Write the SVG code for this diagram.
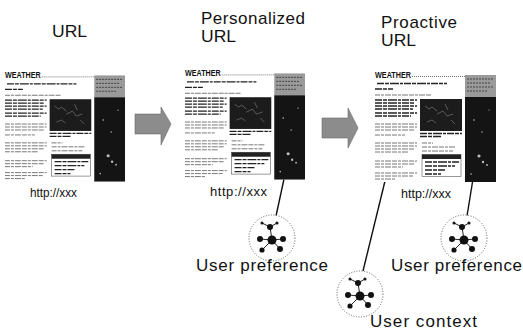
<svg xmlns="http://www.w3.org/2000/svg" xmlns:xlink="http://www.w3.org/1999/xlink" width="523" height="331" viewBox="0 0 523 331">
  <style>
    .lbl { font-family: "Liberation Sans", Arial, sans-serif; fill: #111; }
    .url { font-size: 17px; }
    .addr { font-size: 13px; }
    .cap { font-size: 17px; }
    .tx { fill: none; stroke: #222; stroke-width: 1.3; stroke-dasharray: 7 1 4 1 9 1 3 1; }
    .tl { fill: none; stroke: #777; stroke-width: 1; stroke-dasharray: 5 1 3 1 6 1; }
    .arrow { fill: #8c8c8c; stroke: #6a6a6a; stroke-width: 0.6; }
    .wire { stroke: #111; stroke-width: 1.4; fill: none; }
    .halo { fill: #fff; stroke: #666; stroke-width: 1; stroke-dasharray: 1 1.6; }
    .edge { stroke: #222; stroke-width: 1; }
    .dot { fill: #111; }
  </style>
  <defs>
    <!-- miniature weather web page -->
    <symbol id="page" viewBox="0 0 122 112" width="122" height="112" overflow="visible">
      <rect x="0" y="0" width="122" height="112" fill="#fff"/>
      <text x="0" y="7.5" font-family="Liberation Sans, Arial, sans-serif" font-weight="bold" font-size="8.5" textLength="36" lengthAdjust="spacingAndGlyphs" fill="#111">WEATHER</text>
      <path d="M37 6.5H121" stroke="#777" stroke-width="1" stroke-dasharray="1 1"/>
      <path class="tx" d="M2 13.5H72M0 19H18"/>
      <path class="tl" d="M0 25H57"/>
      <!-- left column -->
      <path class="tx" d="M0 30H42M0 33H40M0 36H42M0 39H38M0 43H42M0 46H36"/>
      <path class="tl" d="M0 54H42M0 57H42M0 60H40M0 65H30"/>
      <path class="tl" d="M0 73H42M0 76H42M0 79H40M0 82H34"/>
      <path class="tl" d="M0 91H42M0 94H40M0 97H28"/>
      <path class="tl" d="M0 103H42M0 106H38M0 109H20"/>
      <!-- picture block -->
      <rect x="45" y="29" width="42" height="32" fill="#1c1c1c"/>
      <path d="M50 36l4 3 3-2 5 4M62 44l6-3 4 5 6-2M52 52l5-2 4 3M70 34l3 6M76 50l4 4" stroke="#6a6a6a" stroke-width="0.8" fill="none"/>
      <path class="tx" d="M45 63.5H87M45 66.5H66"/>
      <path class="tl" d="M47 73H58M47 77H80M47 81H78"/>
      <!-- small box -->
      <rect x="47" y="84.5" width="39" height="22" fill="#fff" stroke="#555" stroke-width="0.6"/>
      <rect x="47" y="84.5" width="39" height="4.5" fill="#222"/>
      <path class="tx" d="M50 92H84M50 96H80M50 100H70M50 104H66"/>
      <!-- side column -->
      <rect x="90" y="5" width="31" height="22" fill="#9a9a9a"/>
      <path d="M92 9H119M92 13H116M92 17H119M92 21H112" stroke="#444" stroke-width="1" stroke-dasharray="2 1"/>
      <rect x="90" y="27" width="31" height="85" fill="#141414"/>
      <g fill="#bbb">
        <circle cx="99" cy="50" r="0.8"/>
        <circle cx="107" cy="62" r="0.7"/>
        <circle cx="104" cy="86" r="1.6"/>
        <circle cx="108" cy="92" r="1.2"/>
        <circle cx="112" cy="95" r="0.9"/>
        <circle cx="96" cy="104" r="0.8"/>
        <circle cx="114" cy="40" r="0.6"/>
      </g>
    </symbol>
    <!-- small graph of linked nodes inside a dotted circle -->
    <symbol id="net" viewBox="-24 -24 48 48" width="48" height="48" overflow="visible">
      <circle class="halo" cx="0" cy="0" r="23"/>
      <path class="edge" d="M0 2L-2 -11M0 2L-12 1M0 2L11 1M0 2L-10 12M0 2L8 11M-2 -11L-10 -15M-2 -11L5 -15"/>
      <circle class="dot" cx="0" cy="2" r="4.5"/>
      <circle class="dot" cx="-2" cy="-11" r="3"/>
      <circle class="dot" cx="-12" cy="1" r="3"/>
      <circle class="dot" cx="11" cy="1" r="3"/>
      <circle class="dot" cx="-10" cy="12" r="2.6"/>
      <circle class="dot" cx="8" cy="11" r="3"/>
      <circle class="dot" cx="-10" cy="-15" r="1.5"/>
      <circle class="dot" cx="5" cy="-15" r="1.5"/>
    </symbol>
  </defs>

  <!-- connectors -->
  <g id="connectors">
    <polygon class="arrow" points="135,114 161,114 161,107 171,124 161,145 161,134 135,134"/>
    <polygon class="arrow" points="322,118 348,118 348,108 358,128 348,148 348,138 322,138"/>
    <path class="wire" d="M284 179L276 216"/>
    <path class="wire" d="M385 181L363 271"/>
    <path class="wire" d="M473 179L467 216"/>
  </g>

  <g id="url">
    <text class="lbl url" x="52" y="37" textLength="35" lengthAdjust="spacingAndGlyphs" font-size="14">URL</text>
    <use xlink:href="#page" x="5" y="70" width="121" height="112"/>
    <text class="lbl addr" x="30" y="197" textLength="47" lengthAdjust="spacingAndGlyphs">http://xxx</text>
  </g>

  <g id="personalized-url">
    <text class="lbl url" x="201" y="24" textLength="104" lengthAdjust="spacing">Personalized</text>
    <text class="lbl url" x="201" y="42" textLength="35" lengthAdjust="spacingAndGlyphs">URL</text>
    <use xlink:href="#page" x="185" y="68" width="121" height="112"/>
    <text class="lbl addr" x="210" y="196" textLength="57" lengthAdjust="spacing">http://xxx</text>
  </g>

  <g id="proactive-url">
    <text class="lbl url" x="381" y="28" textLength="76" lengthAdjust="spacing">Proactive</text>
    <text class="lbl url" x="381" y="46" textLength="35" lengthAdjust="spacingAndGlyphs">URL</text>
    <use xlink:href="#page" x="375" y="70" width="122" height="112"/>
    <text class="lbl addr" x="401" y="198" textLength="50" lengthAdjust="spacingAndGlyphs">http://xxx</text>
  </g>

  <g id="user-preference-1">
    <use xlink:href="#net" x="248" y="214" width="48" height="48"/>
    <text class="lbl cap" x="196" y="271" textLength="132" lengthAdjust="spacing">User preference</text>
  </g>

  <g id="user-context">
    <use xlink:href="#net" x="336" y="270" width="48" height="48"/>
    <text class="lbl cap" x="370" y="327" font-size="16" textLength="107" lengthAdjust="spacing">User context</text>
  </g>

  <g id="user-preference-2">
    <use xlink:href="#net" x="440" y="214" width="48" height="48"/>
    <text class="lbl cap" x="391" y="271" textLength="131" lengthAdjust="spacing">User preference</text>
  </g>
</svg>
